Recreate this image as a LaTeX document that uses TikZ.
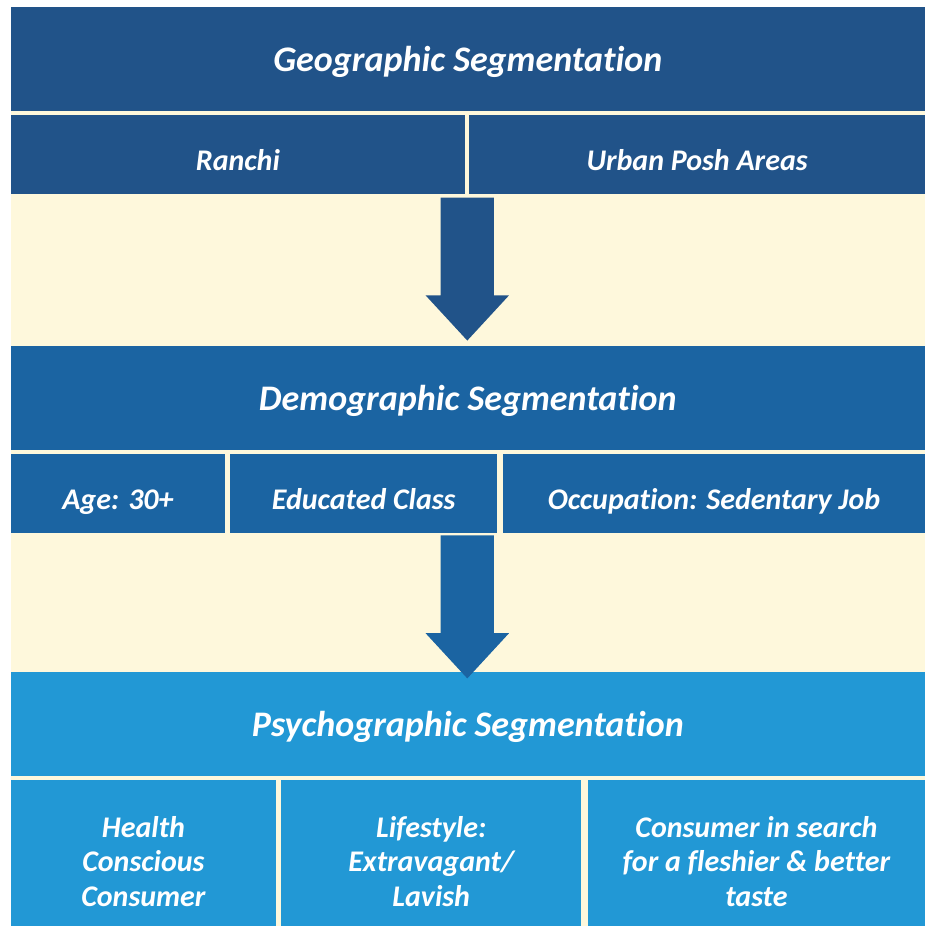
\documentclass[tikz,border=0pt]{standalone}
\usepackage{fontspec}
\setmainfont{Carlito}[Ligatures=NoCommon]
\usepackage{xcolor}
\usetikzlibrary{positioning, shapes.arrows}

\definecolor{geoblue}{HTML}{215389}
\definecolor{demoblue}{HTML}{1B64A2}
\definecolor{psyblue}{HTML}{2298D5}
\definecolor{cream}{HTML}{FEF8DC}

\begin{document}
\begin{tikzpicture}[
      x=1pt, y=-1pt,
      head/.style={minimum width=914pt, minimum height=104pt, inner sep=0pt, text height=33pt, text depth=7pt, text=white, font=\fontsize{36}{40}\selectfont\bfseries\itshape},
      cell/.style={minimum height=79pt, inner sep=0pt, align=center, text height=31pt, text depth=0pt, text=white, font=\fontsize{30}{34.5}\selectfont\bfseries\itshape},
      tallcell/.style={cell, minimum height=146pt, text height=106pt},
      downarrow/.style={single arrow, rotate=-90, minimum height=143pt, inner xsep=0pt, inner ysep=26.5pt,
                        single arrow head extend=15pt, single arrow head indent=0pt, single arrow tip angle=85.4, anchor=tip}
    ]
    % page and panel
    \fill[white] (0,0) rectangle (925,926);
    \fill[cream] (11,7) rectangle (925,926);

    % geographic
    \node[head, fill=geoblue] (geo) at (468,59) {Geographic Segmentation};
    \node[cell, fill=geoblue, minimum width=454pt, below right=4pt and 0pt of geo.south west] (ranchi) {Ranchi};
    \node[cell, fill=geoblue, minimum width=456pt, right=4pt of ranchi] (urban) {Urban Posh Areas};

    % demographic
    \node[head, fill=demoblue] (demo) at (468,398) {Demographic Segmentation};
    \node[cell, fill=demoblue, minimum width=214pt, below right=4pt and 0pt of demo.south west] (age) {Age: 30+};
    \node[cell, fill=demoblue, minimum width=267pt, right=5pt of age] (edu) {Educated Class};
    \node[cell, fill=demoblue, minimum width=423pt, right=5pt of edu] (occ) {Occupation: Sedentary Job};

    % psychographic
    \node[head, fill=psyblue] (psy) at (468,724) {Psychographic Segmentation};
    \node[tallcell, fill=psyblue, minimum width=265pt, below right=4pt and 0pt of psy.south west] (health) {Health\\Conscious\\Consumer};
    \node[tallcell, fill=psyblue, minimum width=300pt, right=5pt of health] (life) {Lifestyle:\\Extravagant/\\Lavish};
    \node[tallcell, fill=psyblue, minimum width=338pt, right=6pt of life] (taste) {Consumer in search\\for a fleshier \& better\\taste};

    % block arrows between the levels
    \node[downarrow, fill=geoblue] (arrgeo) at (467.5,341) {};
    \node[downarrow, fill=demoblue] (arrdemo) at (467.5,679) {};
  \end{tikzpicture}
\end{document}
